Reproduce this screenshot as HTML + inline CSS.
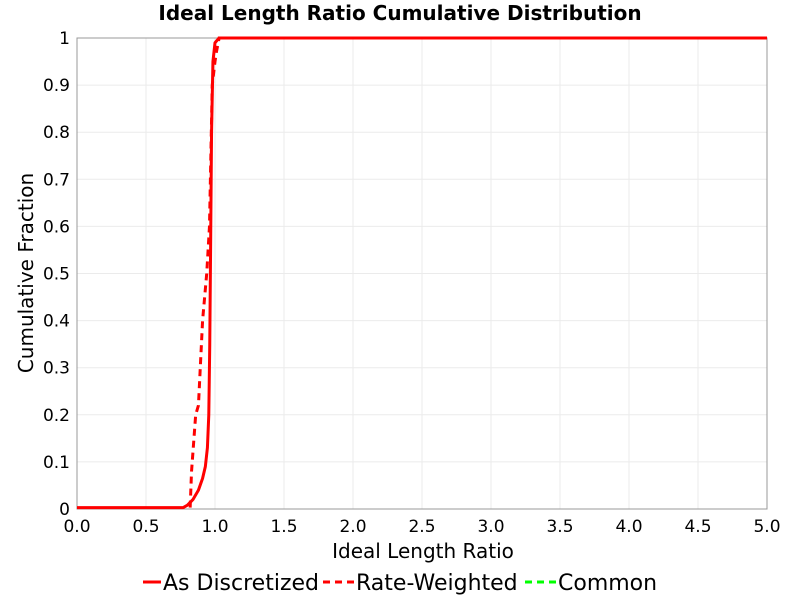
<!DOCTYPE html>
<html><head><meta charset="utf-8"><style>
body{margin:0;background:#fff;font-family:"DejaVu Sans","Liberation Sans",sans-serif}
</style></head><body>
<svg width="800" height="600" xmlns="http://www.w3.org/2000/svg">
<rect width="800" height="600" fill="#fff"/>
<text x="400" y="20" text-anchor="middle" font-weight="bold" font-size="20" fill="#000">Ideal Length Ratio Cumulative Distribution</text>
<g id="grid"></g>
<rect x="77" y="38" width="690" height="471" fill="none" stroke="#999"/>
<g id="ticks"></g>
<g id="series"></g>
<text x="423" y="558" text-anchor="middle" font-size="20">Ideal Length Ratio</text>
<text transform="translate(33,273) rotate(-90)" text-anchor="middle" font-size="20">Cumulative Fraction</text>
<g font-size="22">
<g><line x1="143" y1="582" x2="161" y2="582" stroke="#f00" stroke-width="3"/><text x="163" y="590">As Discretized</text></g>
<g><line x1="323" y1="582" x2="354" y2="582" stroke="#f00" stroke-width="3" stroke-dasharray="7,5"/><text x="356" y="590">Rate-Weighted</text></g>
<g><line x1="525" y1="582" x2="556" y2="582" stroke="#0f0" stroke-width="3" stroke-dasharray="7,5"/><text x="558" y="590">Common</text></g>
</g>
</svg>
<script>
const xTicks=[0,0.5,1,1.5,2,2.5,3,3.5,4,4.5,5];
const yTicks=[0,0.1,0.2,0.3,0.4,0.5,0.6,0.7,0.8,0.9,1];
const discX=[0,0.77,0.8,0.84,0.88,0.91,0.93,0.945,0.955,0.962,0.968,0.975,0.985,1.0,1.03,5];
const discY=[0.003,0.003,0.008,0.02,0.04,0.065,0.09,0.13,0.2,0.35,0.55,0.8,0.95,0.99,1,1];
const rateX=[0.82,0.83,0.84,0.86,0.88,0.91,0.94,0.96,0.98,1.0,1.01,1.03,5];
const rateY=[0.003,0.08,0.12,0.2,0.22,0.4,0.5,0.6,0.9,0.95,0.97,1,1];
const sx=v=>77+v*138, sy=v=>509-v*471;
const NS="http://www.w3.org/2000/svg";
const grid=document.getElementById('grid'),ticks=document.getElementById('ticks'),ser=document.getElementById('series');
function mk(t,a,p){const e=document.createElementNS(NS,t);for(const k in a)e.setAttribute(k,a[k]);p.appendChild(e);return e;}
xTicks.forEach(v=>{
 const g=mk('line',{x1:sx(v),x2:sx(v),y1:38,y2:509,stroke:'#ebebeb'},grid);
 
 
 const t=mk('text',{x:sx(v),y:532,'text-anchor':'middle','font-size':17},ticks);t.textContent=v.toFixed(1);
 
 
});
yTicks.forEach(v=>{
 const g=mk('line',{x1:77,x2:767,y1:sy(v),y2:sy(v),stroke:'#ebebeb'},grid);
 
 
 const t=mk('text',{x:70,y:sy(v)+6,'text-anchor':'end','font-size':17},ticks);t.textContent=String(v);
 
 
});
function pts(X,Y){return X.map((x,i)=>sx(x)+','+sy(Y[i])).join(' ');}
const l1=mk('polyline',{points:pts(discX,discY),fill:'none',stroke:'#f00','stroke-width':3,'stroke-linejoin':'round'},ser);


const l2=mk('polyline',{points:pts(rateX,rateY),fill:'none',stroke:'#f00','stroke-width':3,'stroke-dasharray':'7,5'},ser);


</script>
</body></html>
